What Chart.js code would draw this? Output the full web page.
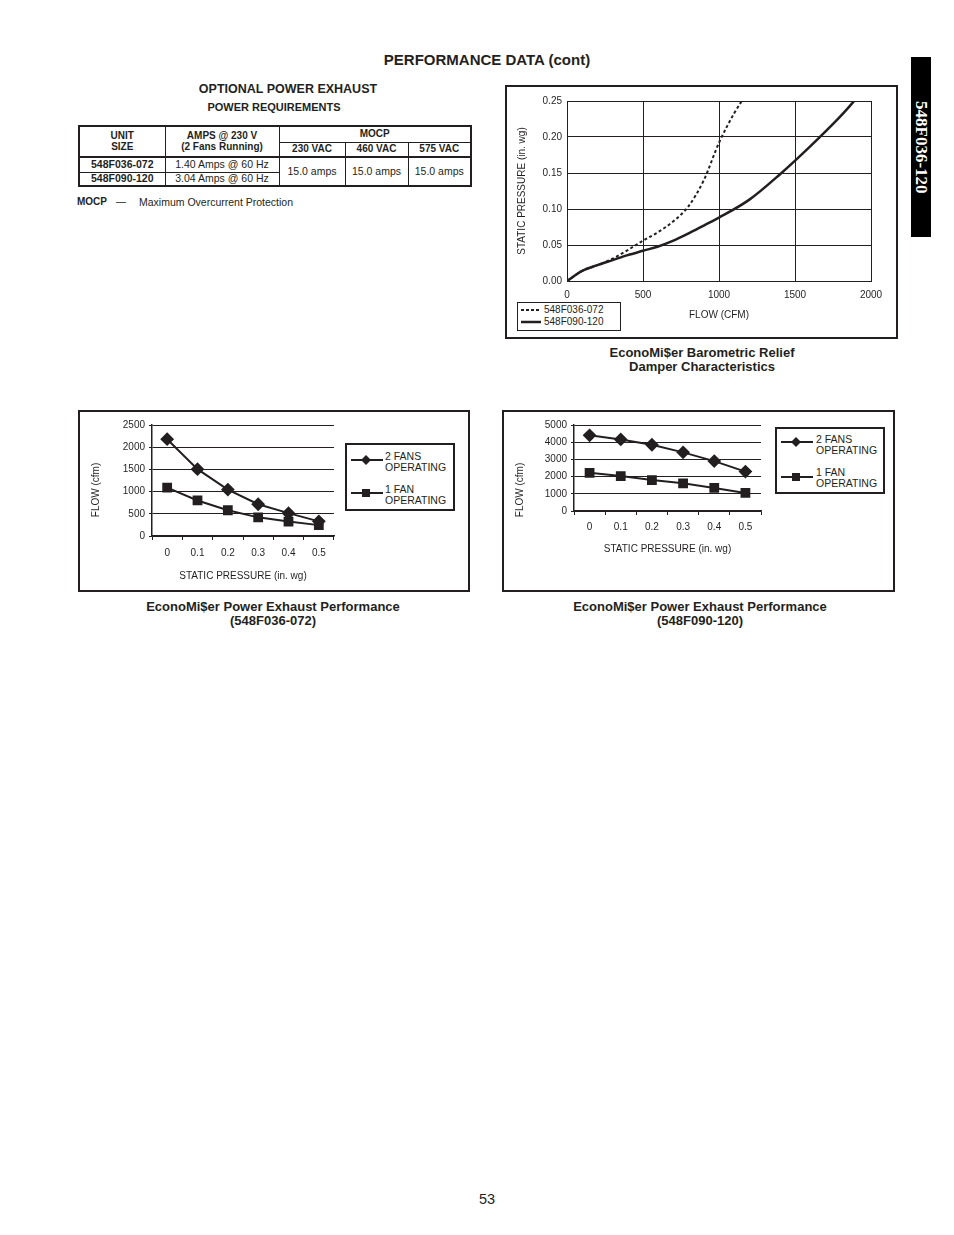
<!DOCTYPE html>
<html lang="en">
<head>
  <meta charset="UTF-8">
  <title>Performance Data (cont)</title>
  <script src="https://cdn.jsdelivr.net/npm/chart.js@4"></script>
  <style>
    body {
      margin: 0;
      background: #fff;
      font-family: 'Liberation Sans', Arial, Helvetica, sans-serif;
      color: #231f20;
    }
    .page { position: relative; width: 954px; height: 1235px; }
    .abs { position: absolute; }
    .center { text-align: center; }
    .b { font-weight: bold; }
    .tab {
      left: 911px; top: 57px; width: 20px; height: 180px;
      background: #000; color: #fff;
      display: flex; align-items: center; justify-content: center;
    }
    .tab span {
      writing-mode: vertical-rl;
      font-family: 'Liberation Serif', 'DejaVu Serif', serif;
      font-weight: bold; font-size: 17px;
    }
    table.req {
      position: absolute; left: 78px; top: 125px; width: 392px;
      border-collapse: collapse; table-layout: fixed;
      border: 2px solid #231f20; font-size: 10.5px;
    }
    table.req td { border: 1px solid #231f20; padding: 0; text-align: center; line-height: 11px; }
    table.req td.h { font-weight: bold; font-size: 10px; line-height: 10.5px; }
    table.req tr.first td { border-top: 2px solid #231f20; }
    .frame { box-sizing: border-box; border: 2px solid #231f20; }
    .frame canvas { position: absolute; left: 0; top: 0; }
    .legbox { box-sizing: border-box; border: 2px solid #231f20; background: #fff; font-size: 10.5px; }
    .legbox .item { position: absolute; line-height: 10.5px; }
    .ytitle { width: 120px; height: 12px; line-height: 12px; font-size: 10px; text-align: center; transform: rotate(-90deg); }
    .caption { font-weight: bold; font-size: 13px; line-height: 14px; text-align: center; width: 360px; }
  </style>
</head>
<body>
<div class="page">
  <div class="abs center b" style="left:337px; top:51px; width:300px; font-size:15px; line-height:18px;">PERFORMANCE DATA (cont)</div>
  <div class="abs tab"><span>548F036-120</span></div>

  <!-- tabla de consumo -->
  <div class="abs center b" style="left:138px; top:81px; width:300px; font-size:12.5px; line-height:16px;">OPTIONAL POWER EXHAUST</div>
  <div class="abs center b" style="left:124px; top:100px; width:300px; font-size:11px; line-height:14px;">POWER REQUIREMENTS</div>
  <table class="req">
    <colgroup><col style="width:86px"><col style="width:114px"><col style="width:66px"><col style="width:63px"><col style="width:63px"></colgroup>
    <tr style="height:16px">
      <td rowspan="2" class="h">UNIT<br>SIZE</td>
      <td rowspan="2" class="h">AMPS @ 230 V<br>(2 Fans Running)</td>
      <td colspan="3" class="h">MOCP</td>
    </tr>
    <tr style="height:15px">
      <td class="h">230 VAC</td>
      <td class="h">460 VAC</td>
      <td class="h">575 VAC</td>
    </tr>
    <tr class="first" style="height:15px">
      <td class="b">548F036-072</td>
      <td>1.40 Amps @ 60 Hz</td>
      <td rowspan="2">15.0 amps</td>
      <td rowspan="2">15.0 amps</td>
      <td rowspan="2">15.0 amps</td>
    </tr>
    <tr style="height:14px">
      <td class="b">548F090-120</td>
      <td>3.04 Amps @ 60 Hz</td>
    </tr>
  </table>
  <div class="abs b" style="left:77px; top:196px; font-size:10px; line-height:12px;">MOCP</div>
  <div class="abs" style="left:116px; top:196px; font-size:10px; line-height:12px;">—</div>
  <div class="abs" style="left:139px; top:196px; font-size:10.5px; line-height:12px;">Maximum Overcurrent Protection</div>

  <!-- curva barometrica -->
  <div class="abs frame" style="left:505px; top:85px; width:393px; height:254px;">
    <canvas id="baroChart" width="389" height="250"></canvas>
  </div>
  <div class="abs" style="left:517px; top:302px; width:104px; height:29px; box-sizing:border-box; border:1px solid #231f20; background:#fff; font-size:10px;">
    <div class="abs" style="left:2px; top:1px; line-height:12px;">
      <svg width="22" height="12" style="vertical-align:top"><line x1="1" y1="6" x2="21" y2="6" stroke="#231f20" stroke-width="2" stroke-dasharray="3,2"/></svg><span style="margin-left:2px">548F036-072</span>
    </div>
    <div class="abs" style="left:2px; top:13px; line-height:12px;">
      <svg width="22" height="12" style="vertical-align:top"><line x1="1" y1="6" x2="21" y2="6" stroke="#231f20" stroke-width="2.5"/></svg><span style="margin-left:2px">548F090-120</span>
    </div>
  </div>
  <div class="abs caption" style="left:522px; top:346px;">EconoMi$er Barometric Relief<br>Damper Characteristics</div>

  <!-- extractor 036-072 -->
  <div class="abs frame" style="left:78px; top:410px; width:392px; height:182px;">
    <canvas id="exh036Chart" width="388" height="178"></canvas>
  </div>
  <div class="abs ytitle" style="left:36px; top:484px;">FLOW (cfm)</div>
  <div class="abs legbox" style="left:345px; top:443px; width:110px; height:68px;">
    <svg class="abs" style="left:4px; top:9px" width="34" height="12"><line x1="0" y1="6" x2="32" y2="6" stroke="#231f20" stroke-width="2"/><path d="M15 1 L20 6 L15 11 L10 6 Z" fill="#231f20"/></svg>
    <div class="item" style="left:38px; top:6px;">2 FANS<br>OPERATING</div>
    <svg class="abs" style="left:4px; top:42px" width="34" height="12"><line x1="0" y1="6" x2="32" y2="6" stroke="#231f20" stroke-width="2"/><rect x="11" y="2" width="8" height="8" fill="#231f20"/></svg>
    <div class="item" style="left:38px; top:39px;">1 FAN<br>OPERATING</div>
  </div>
  <div class="abs caption" style="left:93px; top:600px;">EconoMi$er Power Exhaust Performance<br>(548F036-072)</div>

  <!-- extractor 090-120 -->
  <div class="abs frame" style="left:502px; top:410px; width:393px; height:182px;">
    <canvas id="exh090Chart" width="389" height="178"></canvas>
  </div>
  <div class="abs ytitle" style="left:460px; top:484px;">FLOW (cfm)</div>
  <div class="abs legbox" style="left:775px; top:427px; width:110px; height:67px;">
    <svg class="abs" style="left:4px; top:7px" width="34" height="12"><line x1="0" y1="6" x2="32" y2="6" stroke="#231f20" stroke-width="2"/><path d="M15 1 L20 6 L15 11 L10 6 Z" fill="#231f20"/></svg>
    <div class="item" style="left:39px; top:5px;">2 FANS<br>OPERATING</div>
    <svg class="abs" style="left:4px; top:42px" width="34" height="12"><line x1="0" y1="6" x2="32" y2="6" stroke="#231f20" stroke-width="2"/><rect x="11" y="2" width="8" height="8" fill="#231f20"/></svg>
    <div class="item" style="left:39px; top:38px;">1 FAN<br>OPERATING</div>
  </div>
  <div class="abs caption" style="left:520px; top:600px;">EconoMi$er Power Exhaust Performance<br>(548F090-120)</div>

  <div class="abs center" style="left:437px; top:1191px; width:100px; font-size:14.5px; line-height:16px;">53</div>
</div>

<script>
  // valores
  const baroFlow036 = [0, 100, 200, 300, 400, 500, 600, 700, 800, 900, 1000, 1100, 1150];
  const baroSp036 = [0, 0.014, 0.022, 0.031, 0.043, 0.056, 0.068, 0.083, 0.104, 0.14, 0.192, 0.233, 0.25];
  const baroFlow090 = [0, 100, 200, 300, 400, 500, 600, 700, 800, 900, 1000, 1200, 1400, 1600, 1800, 1890];
  const baroSp090 = [0, 0.014, 0.022, 0.029, 0.036, 0.042, 0.048, 0.056, 0.066, 0.077, 0.088, 0.113, 0.148, 0.187, 0.229, 0.25];

  const pressureLabels = ['0', '0.1', '0.2', '0.3', '0.4', '0.5'];
  const flow2Fans036 = [2180, 1505, 1045, 715, 515, 330];
  const flow1Fan036 = [1090, 800, 580, 420, 325, 245];
  const flow2Fans090 = [4400, 4160, 3850, 3410, 2900, 2290];
  const flow1Fan090 = [2220, 2030, 1800, 1610, 1340, 1050];

  const ink = '#231f20';
  Chart.defaults.font.family = "'Liberation Sans', Arial, Helvetica, sans-serif";
  Chart.defaults.font.size = 10;
  Chart.defaults.color = ink;

  const toPoints = (xs, ys) => xs.map((x, i) => ({ x: x, y: ys[i] }));

  new Chart(document.getElementById('baroChart'), {
    type: 'line',
    data: {
      datasets: [{
        label: '548F036-072',
        data: toPoints(baroFlow036, baroSp036),
        borderColor: ink,
        borderWidth: 2,
        borderDash: [3, 2.5],
        pointRadius: 0,
        cubicInterpolationMode: 'monotone'
      }, {
        label: '548F090-120',
        data: toPoints(baroFlow090, baroSp090),
        borderColor: ink,
        borderWidth: 2.5,
        pointRadius: 0,
        cubicInterpolationMode: 'monotone'
      }]
    },
    options: {
      responsive: false,
      animation: false,
      layout: { padding: { left: 9, right: 25, top: 14, bottom: 16 } },
      plugins: { legend: { display: false }, tooltip: { enabled: false } },
      scales: {
        x: {
          type: 'linear', min: 0, max: 2000,
          ticks: { stepSize: 500, padding: 8, callback: v => String(v) },
          grid: { color: ink, drawTicks: false },
          border: { color: ink },
          title: { display: true, text: 'FLOW (CFM)', padding: 0 },
          afterFit: s => { s.height = 40; }
        },
        y: {
          min: 0, max: 0.25,
          ticks: { stepSize: 0.05, padding: 5, callback: v => v.toFixed(2) },
          grid: { color: ink, drawTicks: false },
          border: { color: ink },
          title: { display: true, text: 'STATIC PRESSURE (in. wg)', padding: 0 },
          afterFit: s => { s.width = 51; }
        }
      }
    }
  });

  function createExhaustChart(id, twoFans, oneFan, yMax, yStep, pad, xHeight, yWidth, labelPad) {
    return new Chart(document.getElementById(id), {
      type: 'line',
      data: {
        labels: pressureLabels,
        datasets: [{
          label: '2 FANS OPERATING',
          data: twoFans,
          borderColor: ink, backgroundColor: ink,
          borderWidth: 2, tension: 0,
          pointStyle: 'rectRot', pointRadius: 5.5
        }, {
          label: '1 FAN OPERATING',
          data: oneFan,
          borderColor: ink, backgroundColor: ink,
          borderWidth: 2, tension: 0,
          pointStyle: 'rect', pointRadius: 5.5
        }]
      },
      options: {
        responsive: false,
        animation: false,
        layout: { padding: pad },
        plugins: { legend: { display: false }, tooltip: { enabled: false } },
        scales: {
          x: {
            offset: true,
            ticks: { padding: labelPad },
            grid: { offset: true, drawOnChartArea: false, color: ink, tickLength: 4 },
            border: { color: ink, width: 1.5 },
            title: { display: true, text: 'STATIC PRESSURE (in. wg)', padding: 0 },
            afterFit: s => { s.height = xHeight; }
          },
          y: {
            min: 0, max: yMax,
            ticks: { stepSize: yStep, padding: 4, callback: v => String(v) },
            grid: { color: ink, tickLength: 3 },
            border: { color: ink, width: 1.5 },
            afterFit: s => { s.width = yWidth; }
          }
        }
      }
    });
  }

  createExhaustChart('exh036Chart', flow2Fans036, flow1Fan036, 2500, 500,
    { left: 0, right: 134, top: 13, bottom: 8 }, 46, 72, 7);
  createExhaustChart('exh090Chart', flow2Fans090, flow1Fan090, 5000, 1000,
    { left: 0, right: 132, top: 13, bottom: 35 }, 44, 70, 6);
</script>
</body>
</html>
